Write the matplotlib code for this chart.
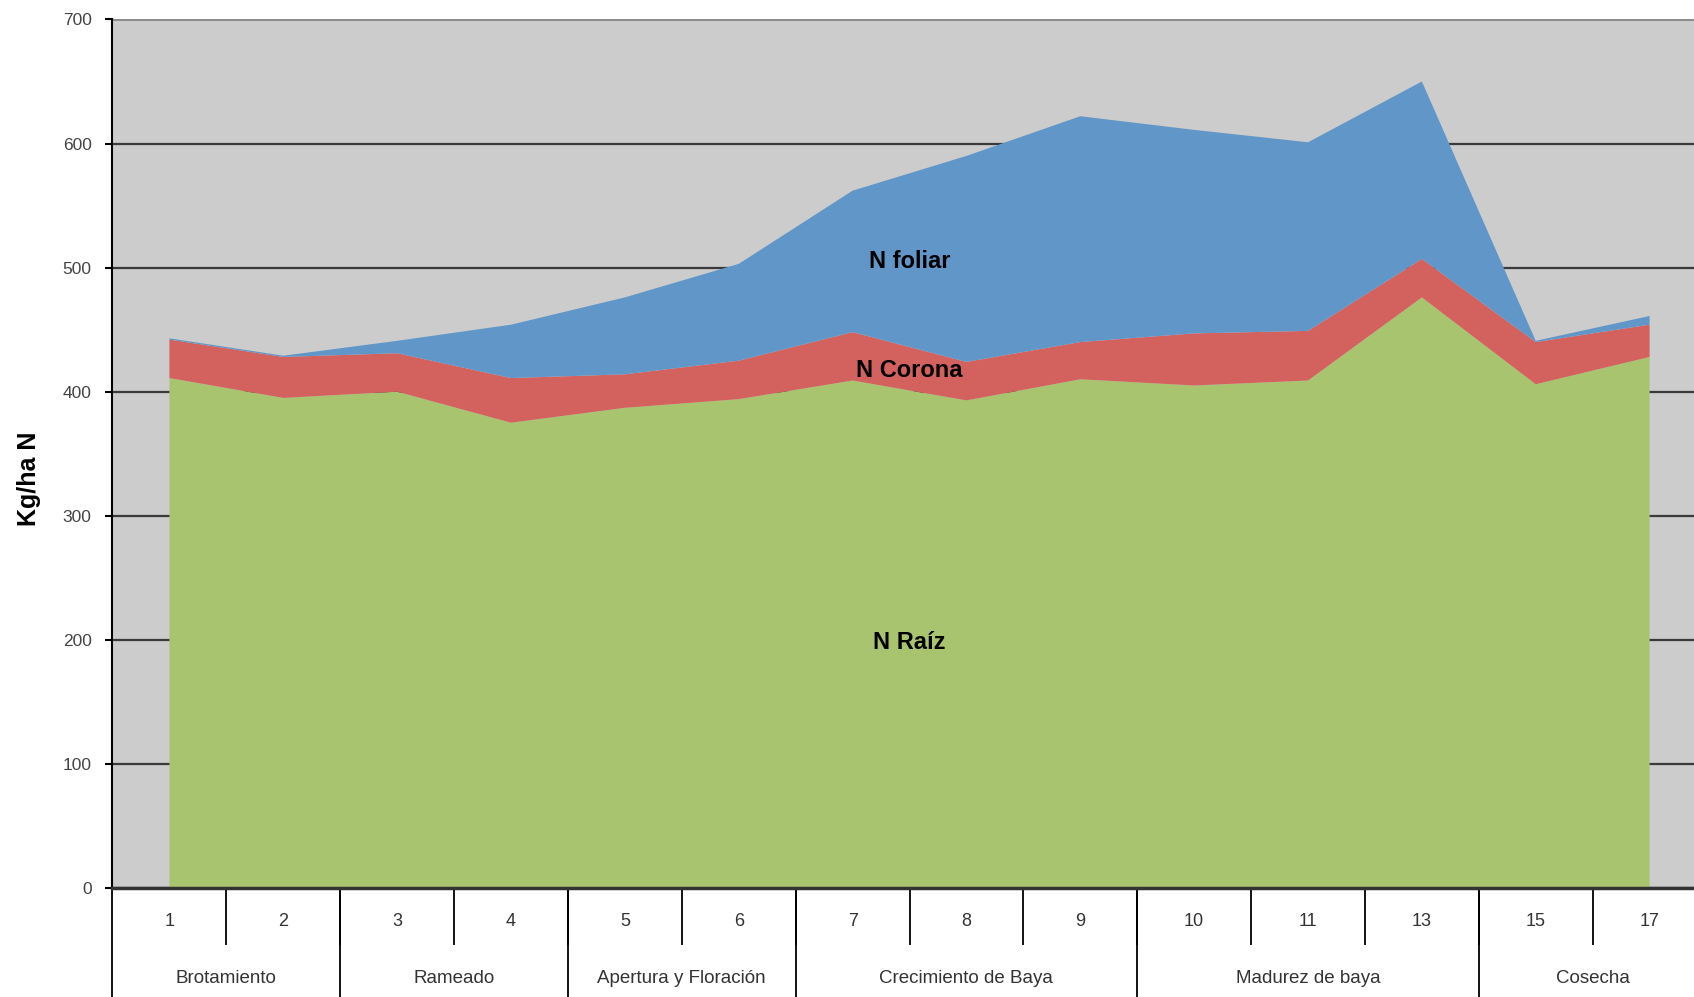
import numpy as np
from matplotlib import pyplot as plt

# muestreos y etapas fenologicas
muestreos = ['1', '2', '3', '4', '5', '6', '7', '8', '9', '10', '11', '13', '15', '17']
etapas = ['Brotamiento', 'Rameado', 'Apertura y Floración',
          'Crecimiento de Baya', 'Madurez de baya', 'Cosecha']
muestreos_por_etapa = [2, 2, 2, 3, 3, 2]

# Kg/ha N por organo (apilado)
n_raiz = [411, 395, 400, 375, 387, 394, 409, 393, 410, 405, 409, 476, 406, 428]
n_corona = [31, 33, 31, 36, 27, 31, 39, 31, 30, 42, 40, 31, 34, 26]
n_foliar = [1, 1, 10, 43, 62, 78, 114, 166, 182, 164, 152, 143, 1, 7]

plt.rcParams['font.family'] = ['Liberation Sans', 'DejaVu Sans']

fig = plt.figure(figsize=(16.94, 9.97), dpi=100)
ax = fig.add_axes([0.0664, 0.1093, 0.9336, 0.8712])

x = np.arange(1, len(muestreos) + 1)
ax.stackplot(x, n_raiz, n_corona, n_foliar,
             colors=['#A9C46F', '#D3625F', '#6196C8'], linewidth=0, zorder=2)

ax.set_facecolor('#CCCCCC')
ax.set_xlim(0.5, 14.39)
ax.set_ylim(0, 700)
ax.set_yticks(np.arange(0, 701, 100))
ax.yaxis.grid(True, color='#3a3a3a', linewidth=1.6, zorder=1)
ax.get_ygridlines()[-1].set_color('#8c8c8c')
ax.get_ygridlines()[-1].set_linewidth(2.2)
ax.set_axisbelow(True)
ax.tick_params(axis='y', direction='out', length=5, width=1.5, pad=10,
               labelsize=12.5, labelcolor='#444444')

for side in ['top', 'right']:
    ax.spines[side].set_visible(False)
ax.spines['left'].set_linewidth(1.5)
ax.spines['bottom'].set_linewidth(2.5)
ax.spines['bottom'].set_color('#333333')
ax.spines['bottom'].set_zorder(5)

# etiquetas de muestreo con separadores cortos
ax.set_xticks(x)
ax.set_xticklabels(muestreos, fontsize=13, color='#333333')
ax.tick_params(axis='x', which='major', length=0, pad=18)
limites = np.arange(1.5, len(muestreos), 1.0)
ax.set_xticks(limites, minor=True)
ax.tick_params(axis='x', which='minor', direction='out', length=41, width=1.3, color='black')

# etapas con separadores largos
trans = ax.get_xaxis_transform()
inicio = 0.5
for etapa, n in zip(etapas, muestreos_por_etapa):
    fin = inicio + n
    ax.plot([inicio, inicio], [0, -0.1255], transform=trans, color='black',
            linewidth=1.3, clip_on=False)
    ax.text((inicio + fin) / 2, -0.1043, etapa, transform=trans,
            ha='center', va='center', fontsize=13.5, color='#333333')
    inicio = fin
ax.plot([inicio, inicio], [0, -0.1255], transform=trans, color='black',
        linewidth=1.3, clip_on=False)

ax.set_ylabel('Kg/ha N', fontsize=18, fontweight='bold')
ax.yaxis.set_label_coords(-0.045, 0.471)

# etiquetas de las areas
ax.text(7.5, 505, 'N foliar', ha='center', va='center', fontsize=17, fontweight='bold', zorder=6)
ax.text(7.5, 417, 'N Corona', ha='center', va='center', fontsize=17, fontweight='bold', zorder=6)
ax.text(7.5, 198, 'N Raíz', ha='center', va='center', fontsize=17, fontweight='bold', zorder=6)

plt.savefig('out.png', dpi=100)
